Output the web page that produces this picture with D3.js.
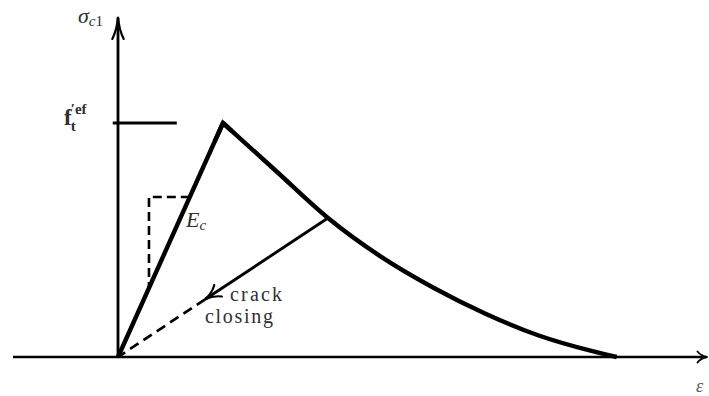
<!DOCTYPE html>
<html>
<head>
<meta charset="utf-8">
<script src="https://cdn.jsdelivr.net/npm/d3@7"></script>
<style>
  html, body { margin: 0; padding: 0; background: #fff; }
  svg { display: block; }
</style>
</head>
<body>
<svg id="chart" width="709" height="396"></svg>
<script>
// Normalised strain (ε / ε_peak) and stress (σ / f't) of the softening branch
const softStrain = [1.0, 1.5, 2.0, 2.5, 3.0, 3.5, 4.0, 4.5, 4.75];
const softStress = [1.0, 0.797, 0.594, 0.43, 0.297, 0.185, 0.093, 0.027, 0];

// Linear elastic branch up to the peak
const loadStrain = [0, 1.0];
const loadStress = [0, 1.0];

// Unloading from a point on the softening branch back to the origin
const unloadStrain = [2.0, 0];
const unloadStress = [0.594, 0];
const arrowFraction = 0.415;   // share of the unloading path left dashed

// Slope triangle for E_c
const triStrain = [0.684, 0.295, 0.295];
const triStress = [0.684, 0.684, 0.295];

// Axis extents
const xExtent = [-1.0, 5.6];
const yExtent = [0, 1.45];

const SERIF = "'Liberation Serif', 'DejaVu Serif', 'Times New Roman', serif";
const INK = "#2f2f33";

const svg = d3.select("#chart");

const x = d3.scaleLinear().domain(xExtent).range([13, 706]);
const y = d3.scaleLinear().domain(yExtent).range([357, 357 - 1.45 * 234]);

const line = d3.line().x(d => x(d[0])).y(d => y(d[1]));
const smooth = d3.line().x(d => x(d[0])).y(d => y(d[1])).curve(d3.curveMonotoneX);

// Open, slightly curved arrow head
function arrowHead(tx, ty, angleDeg, len, spread, width) {
  const a = angleDeg * Math.PI / 180;
  const s = spread * Math.PI / 180;
  const pts = [a + Math.PI - s, a + Math.PI + s].map(t => [tx + len * Math.cos(t), ty + len * Math.sin(t)]);
  const ctrl = [a + Math.PI - s * 0.35, a + Math.PI + s * 0.35].map(t => [tx + len * 0.55 * Math.cos(t), ty + len * 0.55 * Math.sin(t)]);
  svg.append("path")
    .attr("d", `M${pts[0][0]},${pts[0][1]} Q${ctrl[0][0]},${ctrl[0][1]} ${tx},${ty} Q${ctrl[1][0]},${ctrl[1][1]} ${pts[1][0]},${pts[1][1]}`)
    .attr("fill", "none")
    .attr("stroke", "#000")
    .attr("stroke-width", width)
    .attr("stroke-linecap", "round")
    .attr("stroke-linejoin", "round");
}

function label(px, py, size) {
  return svg.append("text")
    .attr("x", px).attr("y", py)
    .attr("font-size", size)
    .attr("font-family", SERIF)
    .style("font-family", SERIF)
    .attr("fill", INK);
}

// Axes
svg.append("line")
  .attr("x1", x(xExtent[0])).attr("x2", x(xExtent[1]))
  .attr("y1", y(0)).attr("y2", y(0))
  .attr("stroke", "#000").attr("stroke-width", 2.6);
svg.append("line")
  .attr("x1", x(0)).attr("x2", x(0))
  .attr("y1", y(0)).attr("y2", y(yExtent[1]))
  .attr("stroke", "#000").attr("stroke-width", 2.8);
arrowHead(x(0), y(yExtent[1]), -90, 22, 15, 2.2);
arrowHead(x(xExtent[1]) + 1, y(0), 0, 11, 30, 1.8);

// f't marker at peak stress
svg.append("line")
  .attr("x1", x(-0.05)).attr("x2", x(0.56))
  .attr("y1", y(1.0)).attr("y2", y(1.0))
  .attr("stroke", "#000").attr("stroke-width", 2.8);

// Slope triangle
svg.append("path")
  .attr("d", line(d3.zip(triStrain, triStress)))
  .attr("fill", "none").attr("stroke", "#000")
  .attr("stroke-width", 2.6).attr("stroke-dasharray", "9,5");

// Loading branch and softening branch
svg.append("path")
  .attr("d", line(d3.zip(loadStrain, loadStress)))
  .attr("fill", "none").attr("stroke", "#000")
  .attr("stroke-width", 4.4);

svg.append("path")
  .attr("d", smooth(d3.zip(softStrain, softStress)))
  .attr("fill", "none").attr("stroke", "#000")
  .attr("stroke-width", 4.4);

// Sharp joint at the peak
const k = 0.08;
svg.append("path")
  .attr("d", line([
    [loadStrain[1] - k, loadStress[1] - k],
    [softStrain[0], softStress[0]],
    [softStrain[0] + k, softStress[0] + k * (softStress[1] - softStress[0]) / (softStrain[1] - softStrain[0])]
  ]))
  .attr("fill", "none").attr("stroke", "#000")
  .attr("stroke-width", 4.4).attr("stroke-linejoin", "miter")
  .attr("stroke-miterlimit", 10);

// Unloading: solid part with arrow, dashed remainder to origin
const tipStrain = unloadStrain[0] + (unloadStrain[1] - unloadStrain[0]) * (1 - arrowFraction);
const tipStress = unloadStress[0] + (unloadStress[1] - unloadStress[0]) * (1 - arrowFraction);
svg.append("path")
  .attr("d", line([[unloadStrain[0], unloadStress[0]], [tipStrain, tipStress]]))
  .attr("fill", "none").attr("stroke", "#000").attr("stroke-width", 2.9);
svg.append("path")
  .attr("d", line([[tipStrain, tipStress], [unloadStrain[1], unloadStress[1]]]))
  .attr("fill", "none").attr("stroke", "#000")
  .attr("stroke-width", 2.7).attr("stroke-dasharray", "10,6");
const ang = Math.atan2(y(tipStress) - y(unloadStress[0]), x(tipStrain) - x(unloadStrain[0])) * 180 / Math.PI;
arrowHead(x(tipStrain), y(tipStress), ang, 17, 24, 2.2);

// Labels
const sig = label(78, 23, 22);
sig.append("tspan").attr("font-style", "italic").text("σ");
sig.append("tspan").attr("font-size", 15).attr("dy", 3).attr("font-style", "italic").text("c");
sig.append("tspan").attr("font-size", 15).text("1");

const ft = label(64, 125, 23).attr("font-weight", "bold");
ft.append("tspan").text("f");
ft.append("tspan").attr("font-size", 15).attr("dx", -1).attr("dy", 6).text("t");
ft.append("tspan").attr("font-size", 15).attr("dx", -5).attr("dy", -17).text("′ef");

const ec = label(186, 227, 22);
ec.append("tspan").attr("font-style", "italic").text("E");
ec.append("tspan").attr("font-size", 15).attr("dy", 3).attr("font-style", "italic").text("c");

label(230, 301, 20).attr("textLength", 52).attr("lengthAdjust", "spacing").text("crack");
label(205, 323, 20).attr("textLength", 68).attr("lengthAdjust", "spacing").text("closing");

label(696, 392, 18).attr("font-style", "italic").attr("fill", "#555").text("ε");
</script>
</body>
</html>
